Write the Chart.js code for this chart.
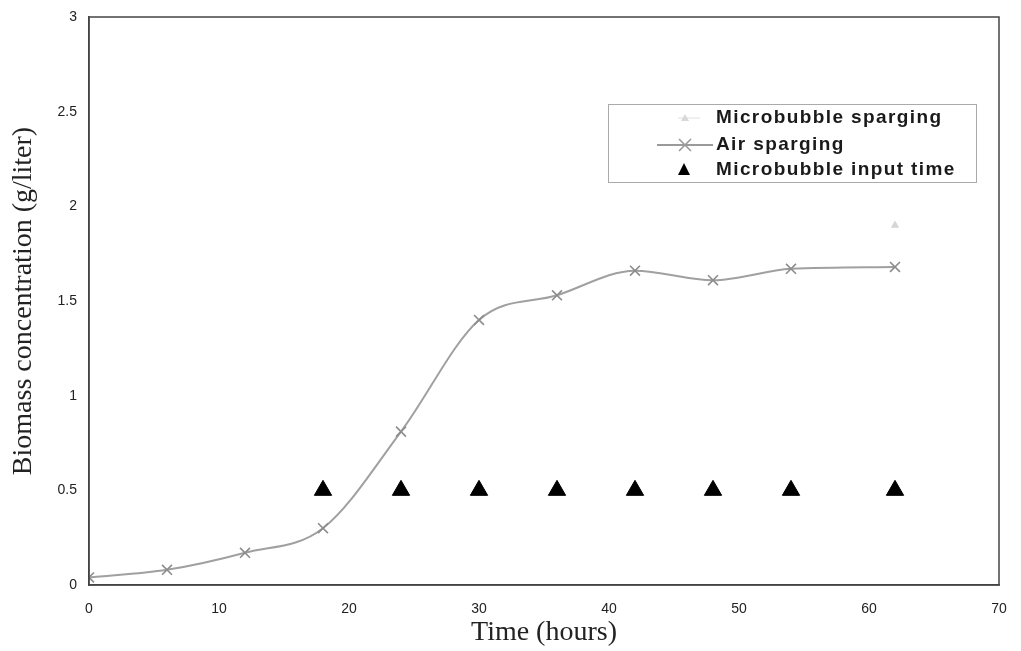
<!DOCTYPE html>
<html>
<head>
<meta charset="utf-8">
<script src="https://cdn.jsdelivr.net/npm/chart.js@4.4.0/dist/chart.umd.min.js"></script>
<style>
  html, body { margin: 0; padding: 0; background: #fff; }
  #wrap { width: 1021px; height: 651px; position: relative; }
</style>
</head>
<body>
<div id="wrap"><canvas id="c" width="1021" height="651"></canvas></div>
<script>
// Sampling times (hours) and measured biomass (g/liter)
const airTimes = [0, 6, 12, 18, 24, 30, 36, 42, 48, 54, 62];
const airBiomass = [0.04, 0.08, 0.17, 0.30, 0.81, 1.40, 1.53, 1.66, 1.61, 1.67, 1.68];

const microTimes = [62];
const microBiomass = [1.90];

// Times at which microbubbles were introduced, plotted at a fixed marker height
const inputTimes = [18, 24, 30, 36, 42, 48, 54, 62];
const inputLevel = [0.5, 0.5, 0.5, 0.5, 0.5, 0.5, 0.5, 0.5];

const xTicks = [0, 10, 20, 30, 40, 50, 60, 70];
const yTicks = [0, 0.5, 1, 1.5, 2, 2.5, 3];

const legendLabels = ['Microbubble sparging', 'Air sparging', 'Microbubble input time'];

const toPoints = (xs, ys) => xs.map((x, i) => ({ x: x, y: ys[i] }));

// Frame around the plot area plus the in-plot legend box
const framePlugin = {
  id: 'frame',
  afterDraw(chart) {
    const { ctx, chartArea: a } = chart;
    ctx.save();
    ctx.strokeStyle = '#444';
    ctx.lineWidth = 1.5;
    ctx.strokeRect(a.left, a.top, a.right - a.left, a.bottom - a.top);

    // legend
    const bx = 608, by = 104, bw = 368, bh = 78;
    ctx.fillStyle = '#fff';
    ctx.fillRect(bx, by, bw, bh);
    ctx.strokeStyle = '#aaa';
    ctx.lineWidth = 1;
    ctx.strokeRect(bx + 0.5, by + 0.5, bw, bh);

    const rows = [118, 145, 170];
    const tx = 716;
    ctx.font = 'bold 19px "Liberation Sans", Arial, sans-serif';
    if ('letterSpacing' in ctx) ctx.letterSpacing = '1.4px';
    ctx.textBaseline = 'middle';
    ctx.fillStyle = '#1a1a1a';
    legendLabels.forEach((t, i) => ctx.fillText(t, tx, rows[i]));
    if ('letterSpacing' in ctx) ctx.letterSpacing = '0px';

    // row 1: faint small marker
    ctx.strokeStyle = '#e0e0e0';
    ctx.lineWidth = 1;
    ctx.beginPath();
    ctx.moveTo(678, rows[0]); ctx.lineTo(700, rows[0]);
    ctx.stroke();
    ctx.fillStyle = '#d8d8d8';
    ctx.beginPath();
    ctx.moveTo(685, rows[0] - 4); ctx.lineTo(689, rows[0] + 3); ctx.lineTo(681, rows[0] + 3);
    ctx.closePath(); ctx.fill();

    // row 2: grey line with cross marker
    ctx.strokeStyle = '#9a9a9a';
    ctx.lineWidth = 2;
    ctx.beginPath();
    ctx.moveTo(657, rows[1]); ctx.lineTo(713, rows[1]);
    ctx.stroke();
    ctx.lineWidth = 1.6;
    ctx.beginPath();
    const cx = 685, r = 6;
    ctx.moveTo(cx - r, rows[1] - r); ctx.lineTo(cx + r, rows[1] + r);
    ctx.moveTo(cx + r, rows[1] - r); ctx.lineTo(cx - r, rows[1] + r);
    ctx.stroke();

    // row 3: black triangle
    ctx.fillStyle = '#000';
    ctx.beginPath();
    ctx.moveTo(684, rows[2] - 7); ctx.lineTo(690, rows[2] + 5); ctx.lineTo(678, rows[2] + 5);
    ctx.closePath(); ctx.fill();
    ctx.restore();
  }
};

const tickFont = { family: '"Liberation Sans", Arial, sans-serif', size: 14 };
const titleFont = { family: '"Liberation Serif", "Times New Roman", serif', size: 28 };

new Chart(document.getElementById('c'), {
  type: 'scatter',
  data: {
    datasets: [
      {
        label: legendLabels[0],
        data: toPoints(microTimes, microBiomass),
        showLine: false,
        pointStyle: 'triangle',
        pointRadius: 4,
        backgroundColor: '#d6d6d6',
        borderColor: '#d6d6d6',
        order: 3
      },
      {
        label: legendLabels[1],
        data: toPoints(airTimes, airBiomass),
        showLine: true,
        tension: 0.4,
        cubicInterpolationMode: 'monotone',
        borderColor: '#a0a0a0',
        borderWidth: 2,
        pointStyle: 'cross',
        rotation: 45,
        pointRadius: 7,
        pointBorderWidth: 1.6,
        pointBorderColor: '#8c8c8c',
        backgroundColor: '#a0a0a0',
        order: 2
      },
      {
        label: legendLabels[2],
        data: toPoints(inputTimes, inputLevel),
        showLine: false,
        pointStyle: 'triangle',
        pointRadius: 10,
        backgroundColor: '#000',
        borderColor: '#000',
        borderWidth: 1,
        order: 1
      }
    ]
  },
  options: {
    responsive: false,
    animation: false,
    devicePixelRatio: 1,
    layout: { padding: { top: 17, right: 22, left: 0, bottom: 0 } },
    plugins: {
      legend: { display: false },
      tooltip: { enabled: false }
    },
    scales: {
      x: {
        type: 'linear',
        min: 0, max: 70,
        afterBuildTicks: s => { s.ticks = xTicks.map(v => ({ value: v })); },
        afterFit: s => { s.height = 66; },
        grid: { display: false, drawTicks: true, tickLength: 4, tickColor: '#444' },
        border: { display: true, color: '#444', width: 1.5 },
        ticks: {
          color: '#222',
          padding: 12,
          font: tickFont,
          callback: v => String(v)
        },
        title: {
          display: true,
          text: 'Time (hours)',
          color: '#222',
          padding: { top: 0, bottom: 2 },
          font: titleFont
        }
      },
      y: {
        min: 0, max: 3,
        afterBuildTicks: s => { s.ticks = yTicks.map(v => ({ value: v })); },
        afterFit: s => { s.width = 89; },
        grid: { display: false, drawTicks: true, tickLength: 4, tickColor: '#444' },
        border: { display: true, color: '#444', width: 1.5 },
        ticks: {
          color: '#222',
          padding: 8,
          font: tickFont,
          callback: v => String(v)
        },
        title: {
          display: true,
          text: 'Biomass concentration (g/liter)',
          color: '#222',
          padding: { top: 7, bottom: 0 },
          font: titleFont
        }
      }
    }
  },
  plugins: [framePlugin]
});
</script>
</body>
</html>
